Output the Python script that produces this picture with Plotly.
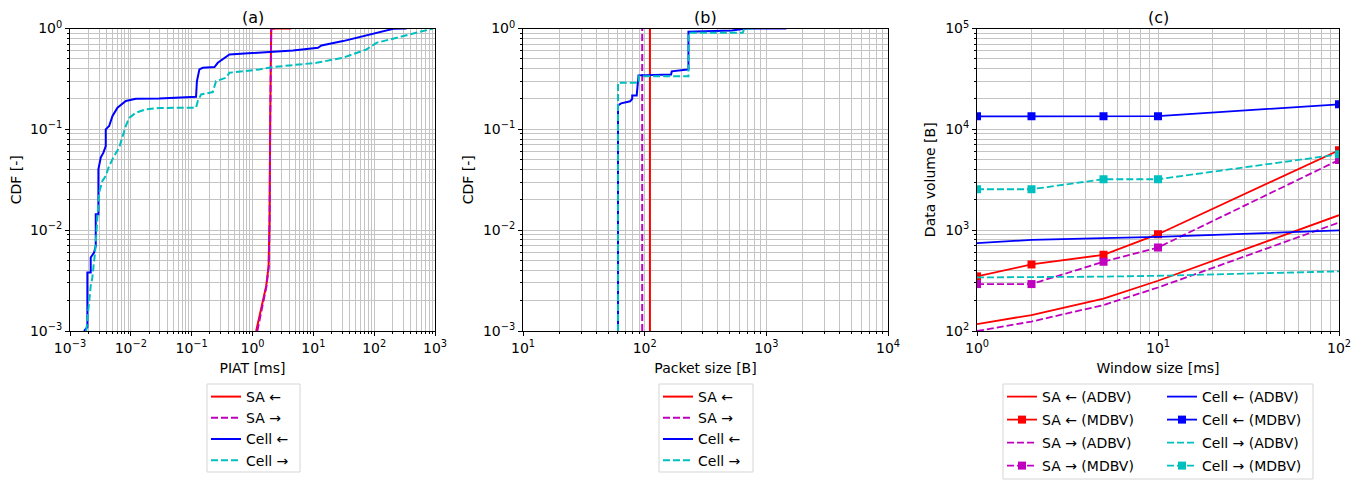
import plotly.graph_objects as go

W, H = 1368, 483
OFF = 8  # page body margin offset in the browser

# ---------------- data ----------------
# Panel (a): PIAT CDFs
piat_sa_left_x = [1.15, 1.39, 1.68, 1.84, 1.905, 1.954, 2.03, 2.03, 4.34]
piat_sa_left_y = [0.001, 0.00166, 0.0028, 0.0044, 0.0129, 0.126, 0.999, 1.0, 1.0]
piat_sa_right_x = [1.2, 1.42, 1.70, 1.85, 1.91, 1.96, 2.03, 2.03, 2.6]
piat_sa_right_y = [0.001, 0.00166, 0.0028, 0.0044, 0.0129, 0.126, 0.999, 1.0, 1.0]
piat_cell_left_x = [1.70e-3, 1.93e-3, 1.93e-3, 2.19e-3, 2.19e-3, 2.49e-3, 2.65e-3, 2.65e-3,
                    2.93e-3, 2.93e-3, 3.2e-3, 3.54e-3, 3.87e-3, 3.87e-3, 4.4e-3, 5.0e-3,
                    6.03e-3, 8.28e-3, 0.0121, 0.0293, 0.118, 0.122, 0.134, 0.152, 0.237,
                    0.269, 0.418, 1.3, 4.62, 11.9, 13.6, 30.8, 109, 206, 341]
piat_cell_left_y = [0.001, 0.00109, 0.0038, 0.0038, 0.00536, 0.006, 0.007, 0.0144,
                    0.0144, 0.0402, 0.0524, 0.0587, 0.0684, 0.1, 0.108, 0.136,
                    0.164, 0.191, 0.201, 0.202, 0.21, 0.3, 0.393, 0.408, 0.414,
                    0.457, 0.553, 0.574, 0.605, 0.644, 0.679, 0.75, 0.906, 0.993, 1.0]
piat_cell_right_x = [1.85e-3, 2.0e-3, 2.19e-3, 2.33e-3, 2.58e-3, 2.72e-3, 2.93e-3, 3.01e-3,
                     3.41e-3, 3.87e-3, 4.4e-3, 5.31e-3, 6.43e-3, 7.29e-3, 8.28e-3, 9.4e-3,
                     0.0121, 0.0177, 0.0293, 0.118, 0.126, 0.143, 0.222, 0.252, 0.368,
                     0.418, 1.3, 2.16, 11.2, 30.8, 74.8, 109, 387, 940]
piat_cell_right_y = [0.001, 0.00166, 0.0028, 0.0034, 0.006, 0.0095, 0.0195, 0.0236,
                     0.0308, 0.0345, 0.0433, 0.0544, 0.0658, 0.0859, 0.108, 0.13,
                     0.146, 0.158, 0.163, 0.164, 0.191, 0.222, 0.234, 0.301, 0.325,
                     0.364, 0.393, 0.414, 0.457, 0.513, 0.62, 0.721, 0.873, 1.0]

# Panel (b): packet size CDFs
ps_sa_left_x = [110.5, 110.5]
ps_sa_left_y = [0.001, 1.0]
ps_sa_right_x = [95.5, 95.5]
ps_sa_right_y = [0.001, 1.0]
ps_cell_left_x = [60.4, 60.4, 64, 76, 79, 79, 86, 87, 89, 165, 167, 226, 229, 229, 520, 690, 1460]
ps_cell_left_y = [0.001, 0.173, 0.181, 0.19, 0.2, 0.217, 0.217, 0.279, 0.343, 0.35, 0.376,
                  0.393, 0.393, 0.93, 0.955, 1.0, 1.0]
ps_cell_right_x = [60.4, 60.4, 89.5, 89.5, 229, 229, 640, 660, 800]
ps_cell_right_y = [0.001, 0.29, 0.29, 0.337, 0.337, 0.906, 0.906, 1.0, 1.0]

# Panel (c): data volume vs window size
window_ms = [1, 2, 5, 10, 100]
sa_left_adbv = [117, 144, 210, 315, 1408]
sa_left_mdbv = [348, 457, 570, 912, 6200]
sa_right_adbv = [100, 124, 181, 270, 1190]
sa_right_mdbv = [292, 292, 486, 673, 4970]
cell_left_adbv = [743, 802, 834, 859, 993]
cell_left_mdbv = [13450, 13450, 13500, 13500, 17700]
cell_right_adbv = [340, 342, 346, 353, 390]
cell_right_mdbv = [2546, 2546, 3200, 3200, 5650]

panel_titles = ["(a)", "(b)", "(c)"]
x_titles = ["PIAT [ms]", "Packet size [B]", "Window size [ms]"]
y_titles = ["CDF [-]", "CDF [-]", "Data volume [B]"]
legend_ab = ["SA ←", "SA →", "Cell ←", "Cell →"]
legend_c = ["SA ← (ADBV)", "SA ← (MDBV)", "SA → (ADBV)", "SA → (MDBV)",
            "Cell ← (ADBV)", "Cell ← (MDBV)", "Cell → (ADBV)", "Cell → (MDBV)"]

RED, MAG, BLUE, CYAN = "#ff0000", "#bf00bf", "#0000ff", "#00bfbf"
DASH = "7px,3px"

def sup(p):
    if p < 0:
        return "10<sup>\u2212%d</sup>" % (-p)
    return "10<sup>%d</sup>" % p

fig = go.Figure()

def add(x, y, name, color, dash, xa, ya, legend, marker=False, width=2):
    fig.add_trace(go.Scatter(
        x=x, y=y, name=name, mode="lines+markers" if marker else "lines",
        line=dict(color=color, width=width, dash=dash),
        marker=dict(symbol="square", size=8, color=color),
        xaxis=xa, yaxis=ya, legend=legend))

# (a)
add(piat_sa_left_x, piat_sa_left_y, legend_ab[0], RED, "solid", "x", "y", "legend")
add(piat_sa_right_x, piat_sa_right_y, legend_ab[1], MAG, DASH, "x", "y", "legend")
add(piat_cell_left_x, piat_cell_left_y, legend_ab[2], BLUE, "solid", "x", "y", "legend")
add(piat_cell_right_x, piat_cell_right_y, legend_ab[3], CYAN, DASH, "x", "y", "legend")
# (b)
add(ps_sa_left_x, ps_sa_left_y, legend_ab[0], RED, "solid", "x2", "y2", "legend2")
add(ps_sa_right_x, ps_sa_right_y, legend_ab[1], MAG, DASH, "x2", "y2", "legend2")
add(ps_cell_left_x, ps_cell_left_y, legend_ab[2], BLUE, "solid", "x2", "y2", "legend2")
add(ps_cell_right_x, ps_cell_right_y, legend_ab[3], CYAN, DASH, "x2", "y2", "legend2")
# (c) -- one legend per entry so rows can be spaced like the reference
series_c = [(sa_left_adbv, RED, "solid", False), (sa_left_mdbv, RED, "solid", True),
            (sa_right_adbv, MAG, DASH, False), (sa_right_mdbv, MAG, DASH, True),
            (cell_left_adbv, BLUE, "solid", False), (cell_left_mdbv, BLUE, "solid", True),
            (cell_right_adbv, CYAN, DASH, False), (cell_right_mdbv, CYAN, DASH, True)]
for i, (vals, col, dsh, mk) in enumerate(series_c):
    add(window_ms, vals, legend_c[i], col, dsh, "x3", "y3", "legend%d" % (3 + i), mk, 1.8)

FONT = dict(family="DejaVu Sans", size=14, color="black")
GRID = "#c4c4c4"

def logaxis(lo, hi, domain, title, anchor, standoff):
    majors = [10 ** p for p in range(lo, hi + 1)]
    minors = [k * 10 ** p for p in range(lo, hi) for k in range(2, 10)]
    return dict(
        type="log", range=[lo, hi], domain=domain, anchor=anchor,
        tickmode="array", tickvals=majors, ticktext=[sup(p) for p in range(lo, hi + 1)],
        ticks="outside", ticklen=4, tickwidth=1, tickcolor="black",
        showline=True, linecolor="black", linewidth=1, mirror=True,
        showgrid=True, gridcolor=GRID, gridwidth=1, zeroline=False,
        tickfont=FONT, automargin=False,
        title=dict(text=title, font=FONT, standoff=standoff),
        minor=dict(tickmode="array", tickvals=minors, ticks="outside", ticklen=2,
                   tickcolor="black", showgrid=True, gridcolor=GRID, gridwidth=1),
    )

def fx(p):
    return (p - OFF) / W

def fy(p):
    return 1 - (p - OFF) / H

ydom = [fy(331), fy(28.5)]
xd = [[fx(70), fx(435)], [fx(523), fx(888)], [fx(977), fx(1339)]]

fig.update_layout(
    width=W, height=H, margin=dict(l=0, r=0, t=0, b=0),
    paper_bgcolor="white", plot_bgcolor="white", font=FONT,
    xaxis=logaxis(-3, 3, xd[0], x_titles[0], "y", 8),
    yaxis=logaxis(-3, 0, ydom, y_titles[0], "x", 6),
    xaxis2=logaxis(1, 4, xd[1], x_titles[1], "y2", 8),
    yaxis2=logaxis(-3, 0, ydom, y_titles[1], "x2", 6),
    xaxis3=logaxis(0, 2, xd[2], x_titles[2], "y3", 8),
    yaxis3=logaxis(2, 5, ydom, y_titles[2], "x3", 6),
)

def leg(xpx, ypx):
    return dict(x=fx(xpx), y=fy(ypx), xanchor="left", yanchor="top",
                bgcolor="rgba(0,0,0,0)", borderwidth=0, font=FONT,
                orientation="v", tracegroupgap=0)

legends = dict(legend=leg(206, 381), legend2=leg(658, 381))
for i in range(8):
    col, row = divmod(i, 4)
    legends["legend%d" % (3 + i)] = leg([1002, 1162][col], 381 + 23 * row)
fig.update_layout(**legends)

boxes = [(207, 384, 300, 472), (659, 384, 753, 472), (1003, 384, 1313, 479)]
for (x0, y0, x1, y1) in boxes:
    fig.add_shape(type="rect", xref="paper", yref="paper",
                  x0=fx(x0), x1=fx(x1), y0=fy(y0), y1=fy(y1),
                  line=dict(color="#d5d5d5", width=1), fillcolor="rgba(0,0,0,0)")

for i, t in enumerate(panel_titles):
    fig.add_annotation(text=t, x=(xd[i][0] + xd[i][1]) / 2, y=fy(18),
                       xref="paper", yref="paper", showarrow=False,
                       xanchor="center", yanchor="middle",
                       font=dict(family="DejaVu Sans", size=16, color="black"))

fig.write_html("out.html")
